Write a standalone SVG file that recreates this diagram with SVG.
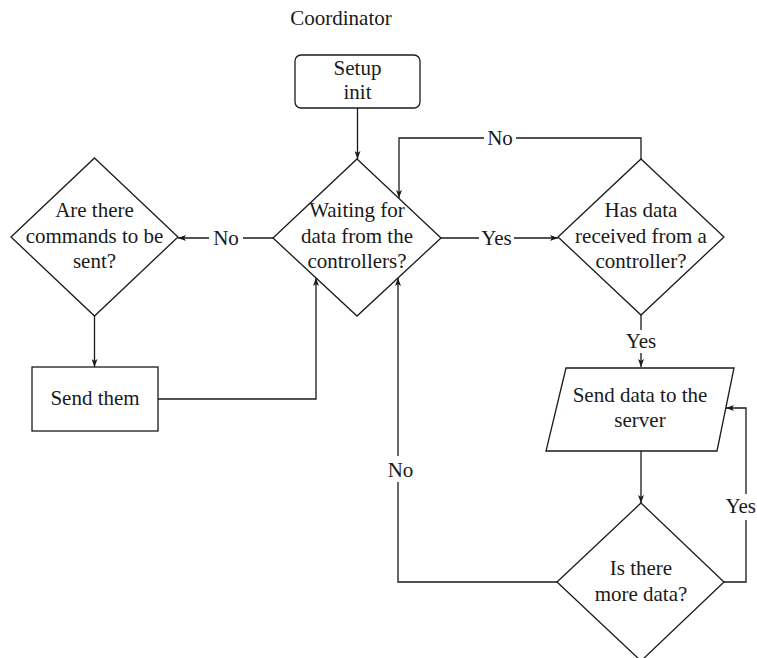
<svg xmlns="http://www.w3.org/2000/svg" width="757" height="658" viewBox="0 0 757 658">
  <style>
    .shape { fill: #ffffff; stroke: #1a1a1a; stroke-width: 1.3; }
    .wire { fill: none; stroke: #1a1a1a; stroke-width: 1.3; }
    .txt { font-family: "Liberation Serif", "Times New Roman", serif; font-size: 21px; fill: #1a1a1a; text-anchor: middle; }
    .gap { fill: #ffffff; stroke: none; }
  </style>
  <defs>
    <marker id="arrow" viewBox="0 0 8 6" refX="8" refY="3" markerWidth="8" markerHeight="6" markerUnits="userSpaceOnUse" orient="auto">
      <path d="M0,0 L8,3 L0,6 L2,3 z" fill="#1a1a1a"/>
    </marker>
  </defs>
  <rect width="757" height="658" fill="#ffffff"/>

  <text class="txt" x="341" y="25">Coordinator</text>

  <!-- connectors -->
  <g id="connectors">
    <path class="wire" d="M357.5,108 V159" marker-end="url(#arrow)"/>
    <path class="wire" d="M273,238 H178" marker-end="url(#arrow)"/>
    <path class="wire" d="M441,238 H558" marker-end="url(#arrow)"/>
    <path class="wire" d="M641,159 V138 H399 V198" marker-end="url(#arrow)"/>
    <path class="wire" d="M94.5,316 V367" marker-end="url(#arrow)"/>
    <path class="wire" d="M158,399 H316 V278" marker-end="url(#arrow)"/>
    <path class="wire" d="M641,315 V367" marker-end="url(#arrow)"/>
    <path class="wire" d="M641,451 V503" marker-end="url(#arrow)"/>
    <path class="wire" d="M724,582 H746 V408 H726" marker-end="url(#arrow)"/>
    <path class="wire" d="M557,582 H398 V278" marker-end="url(#arrow)"/>

    <!-- edge labels -->
    <rect class="gap" x="209" y="228" width="34" height="20"/>
    <text class="txt" x="226" y="245">No</text>
    <rect class="gap" x="479" y="228" width="35" height="20"/>
    <text class="txt" x="496.5" y="245">Yes</text>
    <rect class="gap" x="484" y="128" width="32" height="20"/>
    <text class="txt" x="500" y="145">No</text>
    <rect class="gap" x="628" y="330" width="26" height="23"/>
    <text class="txt" x="641" y="348">Yes</text>
    <rect class="gap" x="728" y="494" width="29" height="26"/>
    <text class="txt" x="756" y="513" style="text-anchor:end">Yes</text>
    <rect class="gap" x="386" y="456" width="28" height="26"/>
    <text class="txt" x="400.5" y="477">No</text>
  </g>

  <g id="setup">
    <rect class="shape" x="295" y="55" width="125" height="53" rx="6"/>
    <text class="txt" x="357.5" y="75">Setup</text>
    <text class="txt" x="357.5" y="99">init</text>
  </g>

  <g id="waiting">
    <polygon class="shape" points="357,159 441,238 357,316 273,238"/>
    <text class="txt" x="357" y="217">Waiting for</text>
    <text class="txt" x="357" y="243">data from the</text>
    <text class="txt" x="357" y="268">controllers?</text>
  </g>

  <g id="commands">
    <polygon class="shape" points="94.5,158 178,237 94.5,316 11,237"/>
    <text class="txt" x="94.5" y="217">Are there</text>
    <text class="txt" x="94.5" y="243">commands to be</text>
    <text class="txt" x="94.5" y="268">sent?</text>
  </g>

  <g id="send-them">
    <rect class="shape" x="32" y="367" width="126" height="64"/>
    <text class="txt" x="95" y="405">Send them</text>
  </g>

  <g id="received">
    <polygon class="shape" points="641,159 724,237 641,315 558,237"/>
    <text class="txt" x="641" y="217">Has data</text>
    <text class="txt" x="641" y="243">received from a</text>
    <text class="txt" x="641" y="268">controller?</text>
  </g>

  <g id="send-server">
    <polygon class="shape" points="566,368 734,368 717,451 546,451"/>
    <text class="txt" x="640" y="402">Send data to the</text>
    <text class="txt" x="640" y="427">server</text>
  </g>

  <g id="more-data">
    <polygon class="shape" points="641,503 724,582 641,661 557,582"/>
    <text class="txt" x="641" y="575">Is there</text>
    <text class="txt" x="641" y="601">more data?</text>
  </g>
</svg>
